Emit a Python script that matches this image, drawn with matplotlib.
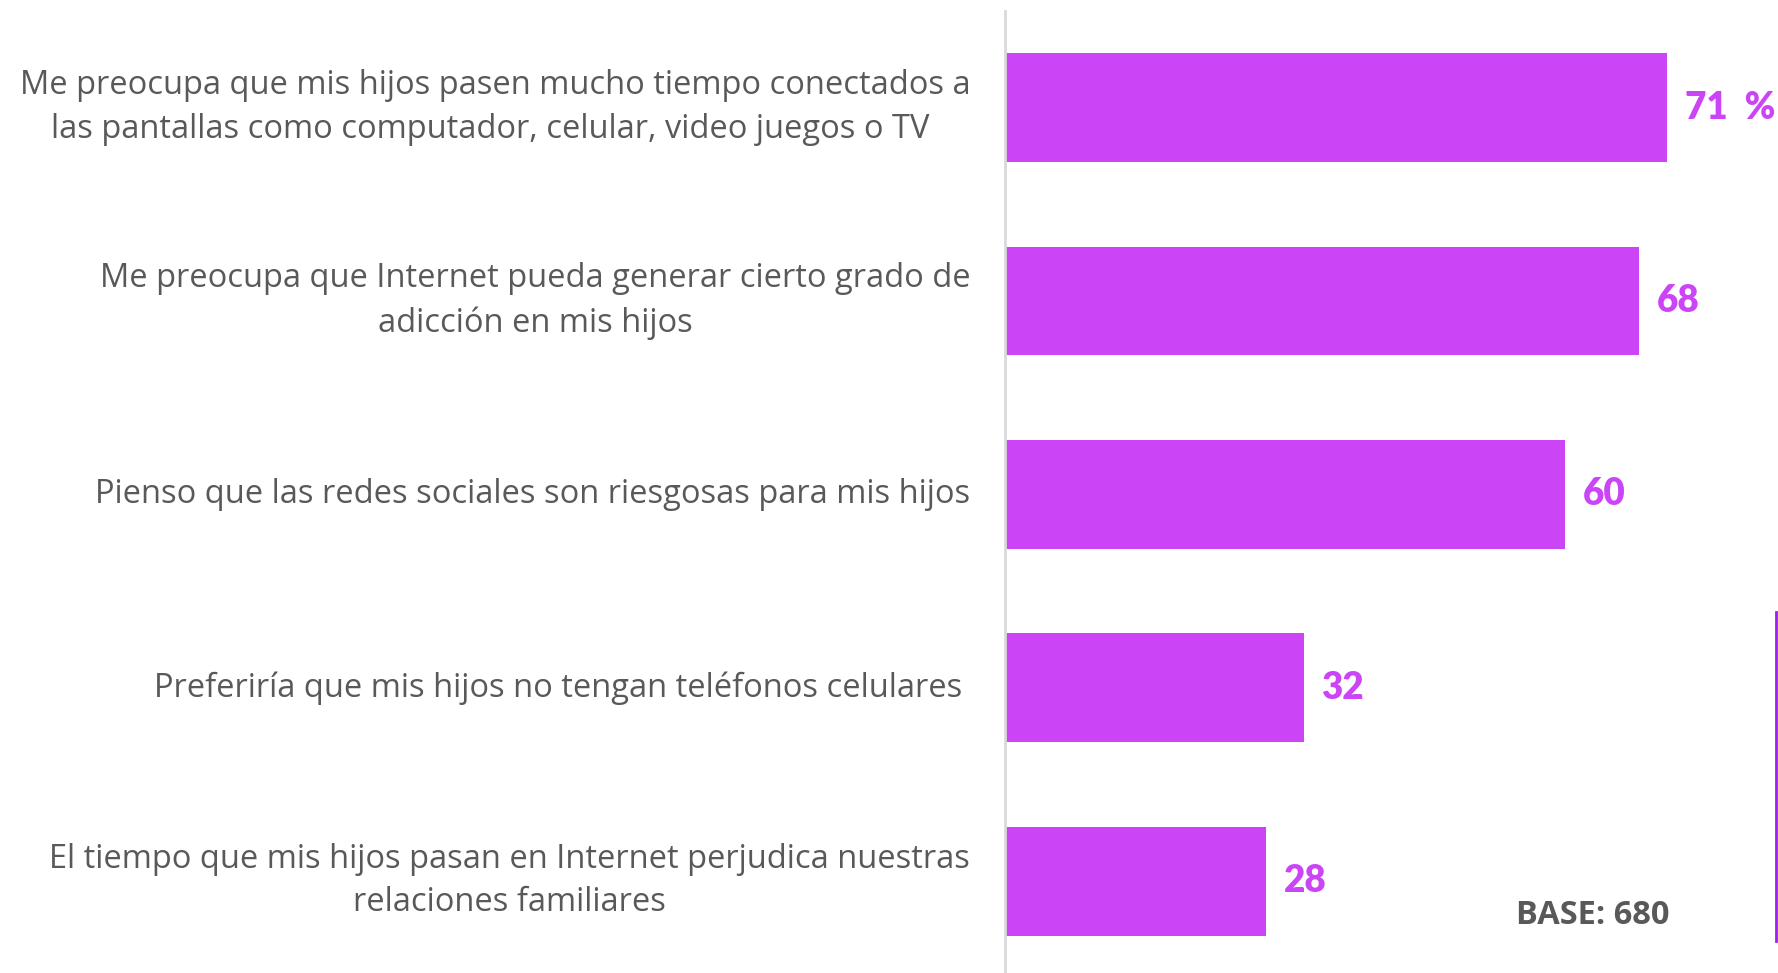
import matplotlib.pyplot as plt
from matplotlib.lines import Line2D

labels = [
    'Me preocupa que mis hijos pasen mucho tiempo conectados a\nlas pantallas como computador, celular, video juegos o TV ',
    'Me preocupa que Internet pueda generar cierto grado de\nadicción en mis hijos',
    'Pienso que las redes sociales son riesgosas para mis hijos',
    'Preferiría que mis hijos no tengan teléfonos celulares ',
    'El tiempo que mis hijos pasan en Internet perjudica nuestras\nrelaciones familiares',
]
values = [71, 68, 60, 32, 28]
value_text = ['71  %', '68', '60', '32', '28']
base_text = 'BASE: 680'

bar_color = '#CB45F7'
grey = '#595959'

fig = plt.figure(figsize=(17.78, 9.73), dpi=100)
ax = fig.add_axes([1005 / 1778, 0, 1 - 1005 / 1778, 962 / 973])

pos = list(range(len(values)))
ax.barh(pos, values, height=0.563, color=bar_color)
ax.set_xlim(0, 82.85)
ax.set_ylim(4.475, -0.5)

for y, v, t in zip(pos, values, value_text):
    ax.text(v + 1.9, y, t, ha='left', va='center', color=bar_color,
            fontsize=26.5, fontweight='heavy', family='Lato')

ax.set_yticks(pos)
ax.set_yticklabels(labels, fontsize=23.5, color=grey, family='Open Sans',
                   linespacing=1.42, ha='right', va='center',
                   multialignment='center')
ax.tick_params(axis='y', length=0, pad=25)
ax.set_xticks([])

for s in ['top', 'right', 'bottom']:
    ax.spines[s].set_visible(False)
ax.spines['left'].set_color('#D9D9D9')
ax.spines['left'].set_linewidth(2)

fig.text(1593 / 1778, 1 - 916 / 973, base_text, ha='center', va='center',
         fontsize=23.5, fontweight='bold', color=grey, family='Open Sans')

# edge of the box at the right margin
fig.add_artist(Line2D([1775.5 / 1778, 1775.5 / 1778], [1 - 612 / 973, 1 - 941 / 973],
                      color='#9B1FF0', linewidth=2))

fig.savefig('out.png', dpi=100)
